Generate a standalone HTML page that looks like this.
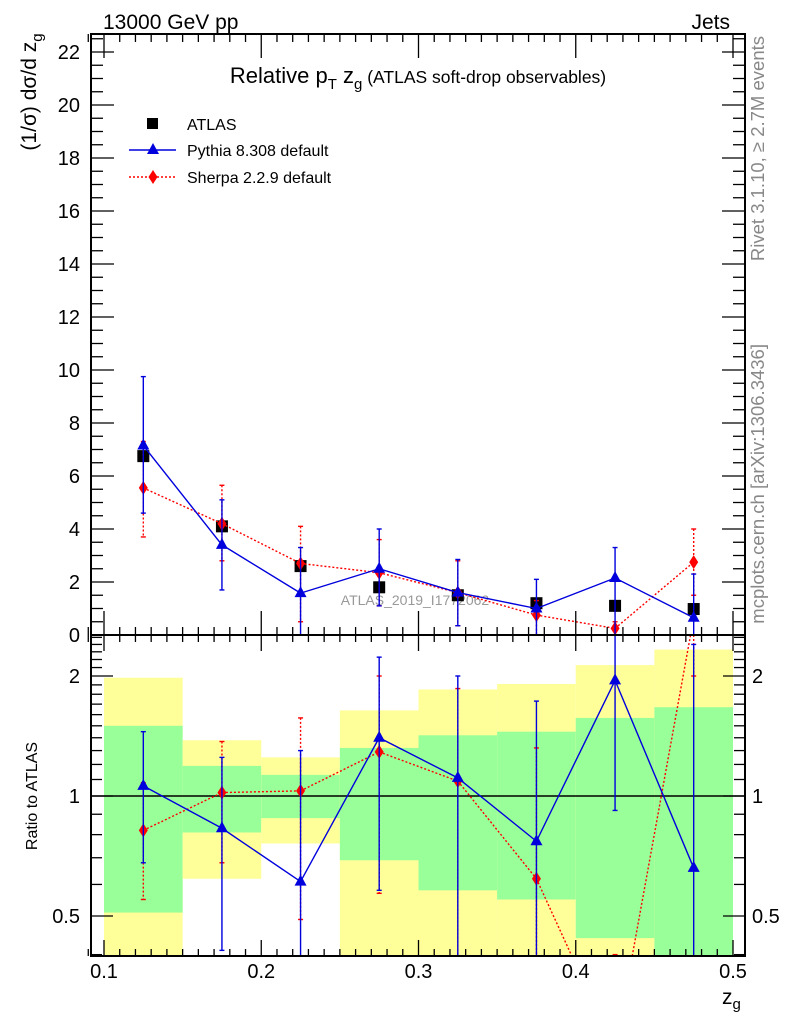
<!DOCTYPE html>
<html><head><meta charset="utf-8"><style>
html,body{margin:0;padding:0;background:#fff;overflow:hidden;width:786px;height:1024px;}
svg{display:block;font-family:"Liberation Sans",sans-serif;}
</style></head><body>
<svg id="c" width="786" height="1024" viewBox="0 0 786 1024"></svg>
<script>
const bins=[0.125,0.175,0.225,0.275,0.325,0.375,0.425,0.475];
const binLo=[0.10,0.15,0.20,0.25,0.30,0.35,0.40,0.45];
const binHi=[0.15,0.20,0.25,0.30,0.35,0.40,0.45,0.50];
const atlas=[6.75,4.1,2.6,1.8,1.5,1.2,1.1,0.98];
const pythia=[7.15,3.4,1.58,2.5,1.6,1.0,2.15,0.65];
const pythiaHi=[9.75,5.1,3.3,4.0,2.85,2.1,3.3,2.3];
const pythiaLo=[4.6,1.7,-0.1,1.1,0.35,-0.1,-1,-1];
const sherpa=[5.55,4.2,2.7,2.35,1.6,0.75,0.25,2.75];
const sherpaHi=[7.3,5.65,4.1,3.6,2.8,1.3,0.5,4.0];
const sherpaLo=[3.7,2.8,0.5,1.1,0.35,0.0,0.0,1.5];
const greenHi=[1.5,1.19,1.13,1.32,1.42,1.45,1.57,1.67];
const greenLo=[0.51,0.81,0.88,0.69,0.58,0.55,0.44,0.3];
const yellowHi=[1.98,1.38,1.25,1.64,1.85,1.91,2.13,2.33];
const yellowLo=[0.3,0.62,0.76,0.3,0.3,0.3,0.3,0.3];
const pyR=[1.06,0.83,0.61,1.4,1.11,0.77,1.95,0.66];
const pyRHi=[1.45,1.25,1.3,2.23,2.0,1.73,2.7,2.4];
const pyRLo=[0.68,0.41,0.3,0.58,0.3,0.3,0.92,0.3];
const shR=[0.82,1.02,1.03,1.29,1.09,0.62,0.23,2.8];
const shRHi=[1.08,1.37,1.57,2.0,1.86,1.32,0.4,4];
const shRLo=[0.55,0.68,0.49,0.57,0.3,0.3,0.1,2];
const yTicks=[0,2,4,6,8,10,12,14,16,18,20,22];
const xTicks=[0.1,0.2,0.3,0.4,0.5];
const rTicks=[0.5,1,2];

const NS="http://www.w3.org/2000/svg";
const svg=document.getElementById('c');
const FL=91,FR=745,MT=34,MB=635,RB=956;
const X=v=>104+(v-0.1)*(733-104)/0.4;
const Y=v=>635-v*26.5;
const R=v=>796-120*Math.log2(v);
function mk(t,a,p){const e=document.createElementNS(NS,t);for(const k in a)e.setAttribute(k,a[k]);(p||svg).appendChild(e);return e;}
const defs=mk('defs',{});
const c1=mk('clipPath',{id:'cm'},defs);mk('rect',{x:FL,y:MT,width:FR-FL,height:MB-MT},c1);
const c2=mk('clipPath',{id:'cr'},defs);mk('rect',{x:FL,y:MB,width:FR-FL,height:RB-MB},c2);

// clip a segment vertically to [top,bot]
function clipSeg(x1,y1,x2,y2,top,bot){
 let t0=0,t1=1;const dy=y2-y1;
 const chk=(p,q)=>{if(p===0)return q>=0;const r=q/p;if(p<0){if(r>t1)return false;if(r>t0)t0=r;}else{if(r<t0)return false;if(r<t1)t1=r;}return true;};
 if(!chk(-dy,y1-top))return null;if(!chk(dy,bot-y1))return null;
 return [x1+(x2-x1)*t0,y1+dy*t0,x1+(x2-x1)*t1,y1+dy*t1];
}
const cl=(y,top,bot)=>Math.min(Math.max(y,top),bot);

const gr=mk('g',{'clip-path':'url(#cr)'});

bins.forEach((b,i)=>{
 const yh=cl(R(yellowHi[i]),MB,RB),yl=cl(R(yellowLo[i]),MB,RB);
 const y=mk('rect',{x:X(binLo[i]),y:yh,width:X(binHi[i])-X(binLo[i]),height:yl-yh,fill:'#ffff99'},gr);
 
 const gh=cl(R(greenHi[i]),MB,RB),gl=cl(R(greenLo[i]),MB,RB);
 const g=mk('rect',{x:X(binLo[i]),y:gh,width:X(binHi[i])-X(binLo[i]),height:gl-gh,fill:'#99ff99'},gr);
 
});
mk('line',{x1:FL,x2:FR,y1:R(1),y2:R(1),stroke:'#000','stroke-width':1.5},gr);

function series(p,vals,hi,lo,ys,color,dash,marker,name,top,bot){
 const g=mk('g',{},p);
 
 for(let i=0;i+1<bins.length;i++){
  const s=clipSeg(X(bins[i]),ys(vals[i]),X(bins[i+1]),ys(vals[i+1]),top,bot);
  if(s)mk('line',{x1:s[0],y1:s[1],x2:s[2],y2:s[3],stroke:color,'stroke-width':1.4,'stroke-dasharray':dash},g);
 }
 bins.forEach((b,i)=>{
  const x=X(b),y=ys(vals[i]);
  const hr=ys(Math.max(hi[i],0.01)),lr=ys(Math.max(lo[i],0.01));
  const h=cl(hr,top,bot),l=cl(lr,top,bot);
  if(l>h)mk('line',{x1:x,x2:x,y1:h,y2:l,stroke:color,'stroke-width':1.4,'stroke-dasharray':dash},g);
  if(hr>=top&&hr<=bot)mk('line',{x1:x-2.5,x2:x+2.5,y1:hr,y2:hr,stroke:color,'stroke-width':1.4},g);
  if(lr>=top&&lr<=bot)mk('line',{x1:x-2.5,x2:x+2.5,y1:lr,y2:lr,stroke:color,'stroke-width':1.4},g);
  if(y<top-8||y>bot+8)return;
  let m;
  if(marker==='tri') m=mk('polygon',{points:`${x},${y-7} ${x-6},${y+4} ${x+6},${y+4}`,fill:color},g);
  else m=mk('polygon',{points:`${x},${y-7} ${x-4.5},${y} ${x},${y+7} ${x+4.5},${y}`,fill:color},g);
  
 });
}
const gm=mk('g',{'clip-path':'url(#cm)'});
const wm=mk('text',{x:415,y:605,'font-size':14,fill:'#999','text-anchor':'middle'},gm);wm.textContent='ATLAS_2019_I1772062';

bins.forEach((b,i)=>{
 const r=mk('rect',{x:X(b)-6,y:Y(atlas[i])-6,width:12,height:12,fill:'#000'},gm);
 
});
series(gm,sherpa,sherpaHi,sherpaLo,Y,'#ff0000','2,2','dia','sherpa-series',MT,MB);
series(gm,pythia,pythiaHi,pythiaLo,Y,'#0000dd','','tri','pythia-series',MT,MB);
series(gr,shR,shRHi,shRLo,R,'#ff0000','2,2','dia','sherpa-ratio',MB,RB);
series(gr,pyR,pyRHi,pyRLo,R,'#0000dd','','tri','pythia-ratio',MB,RB);

const fr1=mk('rect',{x:FL,y:MT,width:FR-FL,height:MB-MT,fill:'none',stroke:'#000','stroke-width':2});

const fr2=mk('rect',{x:FL,y:MB,width:FR-FL,height:RB-MB,fill:'none',stroke:'#000','stroke-width':2});


const tk=mk('g',{stroke:'#000','stroke-width':1.3});

for(let v=0;v<=22.5;v+=0.5){const y=Y(v);const L=(Math.abs(v%2)<1e-6)?23:12;
 mk('line',{x1:FL,x2:FL+L,y1:y,y2:y},tk);mk('line',{x1:FR,x2:FR-L,y1:y,y2:y},tk);}
for(let i=0;i<=41;i++){const v=0.09+i*0.01;if(v>0.509)break;const x=X(v);
 const maj=Math.abs(Math.round(v*10)-v*10)<1e-6;const L=maj?24:8;
 mk('line',{x1:x,x2:x,y1:MB,y2:MB-L},tk);mk('line',{x1:x,x2:x,y1:MT,y2:MT+L},tk);
 mk('line',{x1:x,x2:x,y1:RB,y2:RB-(maj?16:7)},tk);mk('line',{x1:x,x2:x,y1:MB,y2:MB+(maj?16:7)},tk);}
const rv=[0.4,0.5,0.6,0.7,0.8,0.9,1,1.1,1.2,1.3,1.4,1.5,1.6,1.7,1.8,1.9,2,2.1,2.2,2.3,2.4,2.5];
rv.forEach(v=>{const y=R(v);if(y<MB||y>RB)return;const L=rTicks.includes(v)?22:11;
 mk('line',{x1:FL,x2:FL+L,y1:y,y2:y},tk);mk('line',{x1:FR,x2:FR-L,y1:y,y2:y},tk);});

function txt(s,a,name){const t=mk('text',a);t.textContent=s;return t;}
yTicks.forEach(v=>txt(String(v),{x:80,y:Y(v)+7,'font-size':20,'text-anchor':'end'},'y-tick-label'));
xTicks.forEach(v=>txt(String(v),{x:X(v),y:978,'font-size':20,'text-anchor':'middle'},'x-tick-label'));
rTicks.forEach(v=>{txt(String(v),{x:80,y:R(v)+7,'font-size':20,'text-anchor':'end'},'ratio-tick-label');
 txt(String(v),{x:752,y:R(v)+7,'font-size':20},'ratio-tick-label-right');});

txt('13000 GeV pp',{x:103,y:29,'font-size':21},'beam-label');
txt('Jets',{x:730,y:29,'font-size':21,'text-anchor':'end'},'process-label');
const ti=txt('',{x:418,y:83,'font-size':22,'text-anchor':'middle'},'plot-title');
ti.innerHTML='Relative p<tspan font-size="15" dy="6">T</tspan><tspan dy="-6"> z</tspan><tspan font-size="15" dy="6">g</tspan><tspan font-size="17.5" dy="-6"> (ATLAS soft-drop observables)</tspan>';
const yl=txt('',{x:0,y:0,'font-size':21,'text-anchor':'middle',transform:'translate(36,92) rotate(-90)'},'y-axis-title');
yl.innerHTML='(1/σ) dσ/d z<tspan font-size="15" dy="6">g</tspan>';
txt('Ratio to ATLAS',{x:0,y:0,'font-size':16,'text-anchor':'middle',transform:'translate(37,796) rotate(-90)'},'ratio-axis-title');
const xl=txt('',{x:722,y:1004,'font-size':21},'x-axis-title');xl.innerHTML='z<tspan font-size="15" dy="5">g</tspan>';
txt('Rivet 3.1.10, ≥ 2.7M events',{x:0,y:0,'font-size':18.5,fill:'#888','text-anchor':'end',transform:'translate(764,36) rotate(-90)'},'rivet-label');
txt('mcplots.cern.ch [arXiv:1306.3436]',{x:0,y:0,'font-size':18.5,fill:'#888','text-anchor':'end',transform:'translate(764,344) rotate(-90)'},'mcplots-label');

const lg=mk('g',{});
mk('rect',{x:147,y:118,width:11,height:11,fill:'#000'},lg);
const t1=mk('text',{x:187,y:130,'font-size':16},lg);t1.textContent='ATLAS';
mk('line',{x1:129,x2:176,y1:150,y2:150,stroke:'#0000dd','stroke-width':1.5},lg);
mk('polygon',{points:'153,143 147,154 159,154',fill:'#0000dd'},lg);
const t2=mk('text',{x:187,y:156,'font-size':16},lg);t2.textContent='Pythia 8.308 default';
mk('line',{x1:129,x2:176,y1:177,y2:177,stroke:'#ff0000','stroke-width':1.5,'stroke-dasharray':'2,2'},lg);
mk('polygon',{points:'153,170 148.5,177 153,184 157.5,177',fill:'#ff0000'},lg);
const t3=mk('text',{x:187,y:183,'font-size':16},lg);t3.textContent='Sherpa 2.2.9 default';
</script>
</body></html>
